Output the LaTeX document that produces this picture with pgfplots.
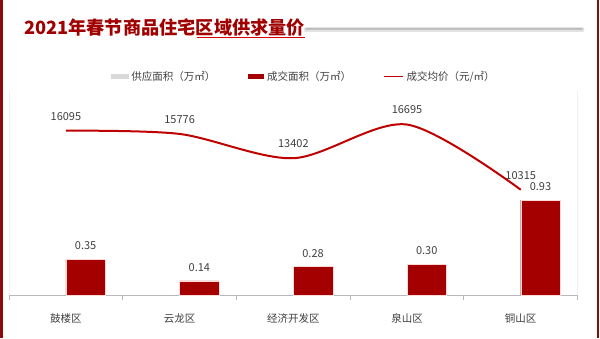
\documentclass[border=0pt]{standalone}
\usepackage{fontspec}
\setmainfont{Noto Sans CJK SC}
\usepackage{pgfplots}
\pgfplotsset{compat=1.18}
\definecolor{barred}{HTML}{A50000}
\definecolor{linered}{HTML}{C00000}
\definecolor{titlered}{HTML}{A00000}
\definecolor{borderred}{HTML}{8B0A0A}
\definecolor{lgray}{HTML}{D9D9D9}
\definecolor{txt}{HTML}{404040}
\begin{document}
\begin{tikzpicture}[x=1pt,y=1pt]
\path[use as bounding box, fill=white] (0,0) rectangle (600,338);
\fill[borderred] (0,0) rectangle (3,338);
\fill[borderred] (597.3,0) rectangle (599,338);
% title
\draw[line width=5pt, gray!22, line cap=round] (306,308) -- (582,308);
\draw[line width=2pt, gray!50, line cap=round] (306,308.5) -- (582,308.5);
\node[anchor=base west, inner sep=0pt, text=titlered, font=\fontsize{18.2}{21}\selectfont\bfseries] at (24,303) {2021年春节商品住宅区域供求量价};
\draw[line width=0.9pt, red!55!titlered] (197,300.3) -- (305,300.3);

\begin{axis}[
  at={(8,42)}, anchor=south west, scale only axis,
  width=568.5pt, height=204.3pt,
  xmin=-0.5, xmax=4.5, ymin=0, ymax=2,
  clip=false,
  axis x line*=bottom, axis y line*=left,
  x axis line style={draw=gray!55, line width=0.8pt, -},
  y axis line style={draw=gray!12, -},
  xtick={-0.5,0.5,1.5,2.5,3.5,4.5},
  xticklabels={鼓楼区,云龙区,经济开发区,泉山区,铜山区},
  major tick length=5pt,
  major x tick style={draw=gray!55, line width=0.8pt},
  ytick=\empty,
  minor ytick={0.2,0.4,0.6,0.8,1.0,1.2,1.4,1.6,1.8,2.0},
  minor tick length=2.5pt,
  minor y tick style={draw=gray!15},
  tick align=outside,
  xticklabel style={font=\fontsize{10.5}{12}\selectfont, text=txt, anchor=center, yshift=-18pt, xshift=56.85pt},
  legend columns=3,
  legend style={at={(0.1794,1)}, anchor=west, yshift=14.4pt, draw=none, fill=none,
    inner sep=0pt, outer sep=0pt, font=\fontsize{10.5}{12}\selectfont, text=txt,
    nodes={inner xsep=3.3pt, inner ysep=0pt, text width=113pt, align=left}},
]
\addlegendimage{legend image code/.code={\fill[lgray] (0pt,-2pt) rectangle (16.7pt,2pt);}}
\addlegendentry{供应面积（万㎡）}
\addplot[ybar, bar width=0.347, bar shift=0.1735, fill=barred, draw=red!15, line width=0.4pt,
  legend image code/.code={\fill[barred] (0pt,-2pt) rectangle (15.6pt,2pt);},
  nodes near coords,
  every node near coord/.append style={font=\fontsize{11}{12}\selectfont, text=txt, anchor=center, yshift=13.4pt, xshift=19.7pt},
  /pgf/number format/fixed, /pgf/number format/fixed zerofill, /pgf/number format/precision=2,
  /pgf/number format/assume math mode=true]
  coordinates {(0,0.35) (1,0.14) (2,0.28) (3,0.30) (4,0.93)};
\addlegendentry{成交面积（万㎡）}
\addlegendimage{legend image code/.code={\draw[linered, line width=1.5pt] (0pt,0pt) -- (18.4pt,0pt);}}
\addlegendentry{成交均价（元/㎡）}
\end{axis}

\begin{axis}[
  at={(8,42)}, anchor=south west, scale only axis,
  width=568.5pt, height=204.3pt,
  xmin=-0.5, xmax=4.5, ymin=0, ymax=20000,
  clip=false,
  axis x line=none, axis y line*=right,
  y axis line style={draw=gray!12, -},
  ytick=\empty,
]
\addplot[smooth, linered, line width=2pt, nodes near coords, point meta=explicit symbolic,
  every node near coord/.append style={font=\fontsize{11}{12}\selectfont, text=txt, anchor=center, yshift=14.5pt}]
  coordinates {(0,16095) [16095] (1,15776) [15776] (2,13402) [13402] (3,16695) [16695] (4,10315) [10315]};
\end{axis}
\end{tikzpicture}
\end{document}
